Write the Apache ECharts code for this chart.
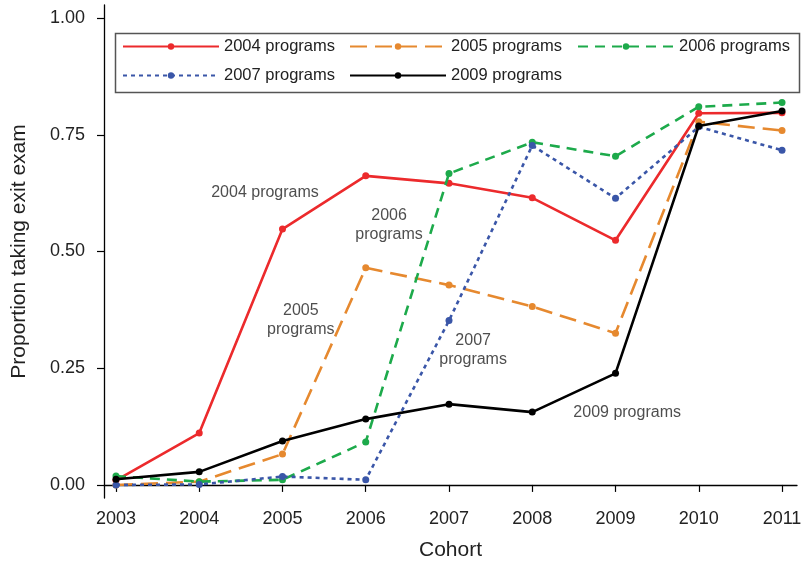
<!DOCTYPE html>
<html><head><meta charset="utf-8">
<script src="https://cdn.jsdelivr.net/npm/echarts@6/dist/echarts.min.js"></script>
<style>html,body{margin:0;padding:0;background:#fff}#c{width:801px;height:564px}</style>
</head><body><div id="c"></div>
<script>
const cohorts = [2003, 2004, 2005, 2006, 2007, 2008, 2009, 2010, 2011];
const yTicks = [0, 0.25, 0.5, 0.75, 1.0];
const p2004 = [0.010, 0.111, 0.548, 0.662, 0.646, 0.615, 0.524, 0.796, 0.797];
const p2005 = [0.000, 0.007, 0.066, 0.465, 0.428, 0.382, 0.325, 0.778, 0.759];
const p2006 = [0.019, 0.007, 0.011, 0.092, 0.667, 0.734, 0.704, 0.810, 0.819];
const p2007 = [0.000, 0.001, 0.018, 0.011, 0.352, 0.727, 0.614, 0.767, 0.717];
const p2009 = [0.012, 0.028, 0.094, 0.141, 0.173, 0.156, 0.239, 0.769, 0.801];
const seriesNames = ['2004 programs', '2005 programs', '2006 programs', '2007 programs', '2009 programs'];
const annotations = [
  [2004.79, 0.627, '2004 programs'],
  [2006.28, 0.557, '2006\nprograms'],
  [2005.22, 0.353, '2005\nprograms'],
  [2007.29, 0.289, '2007\nprograms'],
  [2009.14, 0.154, '2009 programs']
];

const colors = ['#EC2A2C', '#E6892F', '#1DAA4B', '#3A56A8', '#000000'];
const dashes = ['solid', [17, 8], [10, 7], [4, 4], 'solid'];
const values = [p2004, p2005, p2006, p2007, p2009];
const FONT = '"Liberation Sans", Arial, sans-serif';

const chart = echarts.init(document.getElementById('c'));
const lineSeries = values.map((v, i) => ({
  name: seriesNames[i],
  type: 'line',
  data: cohorts.map((c, j) => [c, v[j]]),
  symbol: 'circle',
  symbolSize: 7,
  color: colors[i],
  lineStyle: { color: colors[i], width: 2.6, type: dashes[i] },
  itemStyle: { color: colors[i] },
  z: 2 + i,
  silent: true,
  animation: false
}));

const legendSlots = [[122, 38], [349, 38], [577, 38], [122, 67], [349, 67]];
const legends = seriesNames.map((n, i) => ({
  data: [n], left: legendSlots[i][0], top: legendSlots[i][1],
  itemWidth: 96, itemHeight: 8, padding: 0, selectedMode: false,
  textStyle: { fontFamily: FONT, fontSize: 16.5, color: '#222' }
}));

chart.setOption({
  animation: false,
  grid: { left: 104, right: 4, top: 5, bottom: 66, containLabel: false, outerBoundsMode: 'none' },
  xAxis: {
    type: 'value', min: 2002.856, max: 2011.18,
    name: 'Cohort', nameLocation: 'middle', nameGap: 42,
    nameTextStyle: { fontFamily: FONT, fontSize: 21, color: '#222' },
    axisLine: { lineStyle: { color: '#000', width: 1.3 } },
    axisTick: { show: true, length: 7, customValues: cohorts, lineStyle: { color: '#000', width: 1.2 } },
    axisLabel: { customValues: cohorts, formatter: v => String(Math.round(v)), fontFamily: FONT, fontSize: 18, color: '#222', margin: 12 },
    splitLine: { show: false }
  },
  yAxis: {
    type: 'value', min: -0.028, max: 1.028,
    name: 'Proportion taking exit exam', nameLocation: 'middle', nameGap: 74,
    nameTextStyle: { fontFamily: FONT, fontSize: 21, color: '#222' },
    axisLine: { show: true, lineStyle: { color: '#000', width: 1.3 } },
    axisTick: { show: true, length: 7, customValues: yTicks, lineStyle: { color: '#000', width: 1.2 } },
    axisLabel: { customValues: yTicks, formatter: v => v.toFixed(2), fontFamily: FONT, fontSize: 18, color: '#222', margin: 19 },
    splitLine: { show: false }
  },
  legend: legends,
  graphic: [{
    type: 'rect', left: 113, top: 31, shape: { width: 684, height: 59 },
    style: { fill: 'none', stroke: '#555', lineWidth: 1.5 }, z: 1
  }],
  series: lineSeries.concat([{
    type: 'scatter', name: 'annot', data: annotations, symbolSize: 0, silent: true, z: 10,
    label: { show: true, position: 'inside', formatter: p => p.value[2], fontFamily: FONT, fontSize: 16, color: '#222', lineHeight: 19, align: 'center' }
  }])
});
</script></body></html>
